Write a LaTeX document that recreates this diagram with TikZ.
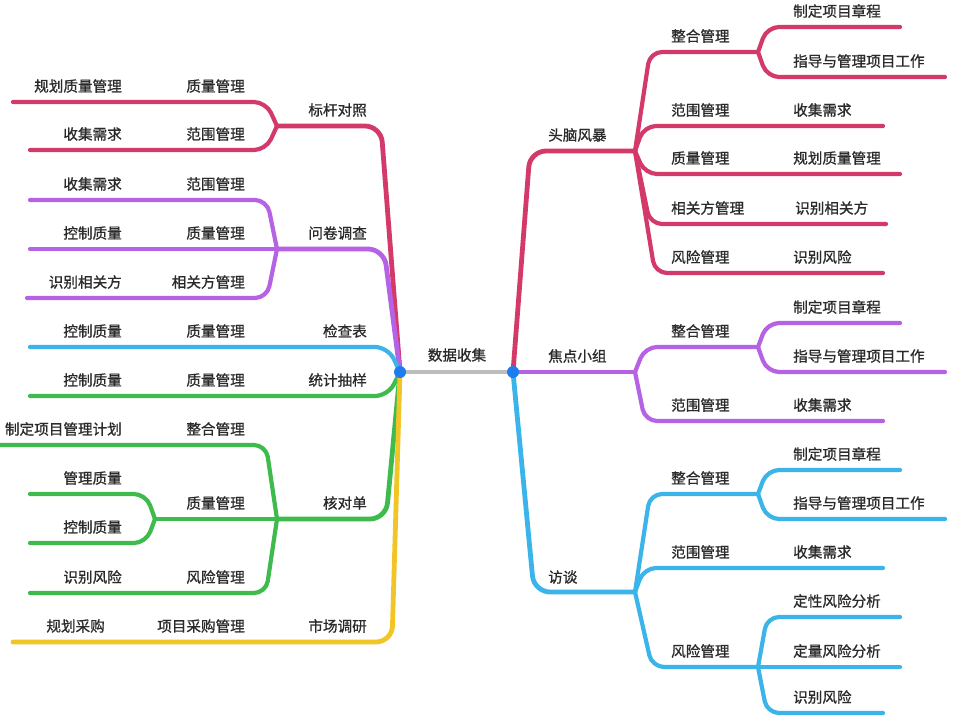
\documentclass[tikz,border=0pt]{standalone}
\usepackage{fontspec}
\setmainfont{Noto Sans CJK SC}[FakeBold=0.9]
\definecolor{cR}{HTML}{D33A6A}
\definecolor{cP}{HTML}{B662E4}
\definecolor{cB}{HTML}{3BB4EA}
\definecolor{cG}{HTML}{3FBA4D}
\definecolor{cY}{HTML}{F1C526}
\definecolor{cGray}{HTML}{BDBDBD}
\definecolor{cDot}{HTML}{1F7BF0}
\definecolor{txt}{HTML}{2A2A2A}
\begin{document}
\begin{tikzpicture}[x=1pt,y=-1pt,
  lbl/.style={font=\fontsize{14.6}{16}\selectfont, text=txt, inner sep=0pt},
  le/.style={lbl,anchor=east},
  ri/.style={lbl,anchor=west},
  br/.style={line width=4.2pt, line cap=round, line join=round, rounded corners=12pt},
  mainbr/.style={line width=4.8pt, rounded corners=16pt},
  dot/.style={circle, fill=cDot, minimum size=12pt, inner sep=0pt}]
\fill[white] (0,0) rectangle (964,715);
\useasboundingbox (0,0) rectangle (964,715);
% ---------- coordinates ----------
\coordinate (L) at (400,372);
\coordinate (R) at (513,372);
% left
\coordinate (bA) at (277,126);
\coordinate (eA1) at (13,102);
\coordinate (eA2) at (30,150);
\coordinate (bB) at (277,249);
\coordinate (eB1) at (30,200);
\coordinate (eB2) at (30,249);
\coordinate (eB3) at (27,298);
\coordinate (eC) at (30,347);
\coordinate (eD) at (30,396);
\coordinate (bE) at (277,519);
\coordinate (eE1) at (-4,445);
\coordinate (bE2) at (155,519);
\coordinate (eE21) at (30,494);
\coordinate (eE22) at (30,543);
\coordinate (eE3) at (30,593);
\coordinate (eF) at (13,642);
% right
\coordinate (bG) at (635,151);
\coordinate (bG1) at (758,52);
\coordinate (eG11) at (900,27);
\coordinate (eG12) at (945,77);
\coordinate (eG2) at (883,126);
\coordinate (eG3) at (900,174);
\coordinate (eG4) at (886,224);
\coordinate (eG5) at (883,273);
\coordinate (bH) at (635,372);
\coordinate (bH1) at (758,347);
\coordinate (eH11) at (900,323);
\coordinate (eH12) at (945,372);
\coordinate (eH2) at (883,421);
\coordinate (bI) at (635,592);
\coordinate (bI1) at (758,494);
\coordinate (eI11) at (900,470);
\coordinate (eI12) at (945,519);
\coordinate (eI2) at (883,568);
\coordinate (bI3) at (758,667);
\coordinate (eI31) at (900,617);
\coordinate (eI32) at (900,667);
\coordinate (eI33) at (883,713);
% ---------- left branches ----------
\draw[br,cR] (bA) -- (266,102) -- (eA1);
\draw[br,cR] (bA) -- (266,150) -- (eA2);
\draw[br,cR,mainbr] (L) -- (381,126) -- (bA);
\draw[br,cP] (bB) -- (267,200) -- (eB1);
\draw[br,cP] (bB) -- (eB2);
\draw[br,cP] (bB) -- (267,298) -- (eB3);
\draw[br,cP,mainbr] (L) -- (384,249) -- (bB);
\draw[br,cB,rounded corners=13pt] (L) -- (388,347) -- (eC);
\draw[br,cG,rounded corners=13pt] (L) -- (388,396) -- (eD);
\draw[br,cG] (bE) -- (266,445) -- (eE1);
\draw[br,cG] (bE2) -- (146,494) -- (eE21);
\draw[br,cG] (bE2) -- (146,543) -- (eE22);
\draw[br,cG] (bE) -- (bE2);
\draw[br,cG] (bE) -- (266,593) -- (eE3);
\draw[br,cG,mainbr] (L) -- (386,519) -- (bE);
\draw[br,cY,mainbr] (L) -- (392,642) -- (eF);
% ---------- right branches ----------
\draw[br,cR] (bG1) -- (767,27) -- (eG11);
\draw[br,cR] (bG1) -- (767,77) -- (eG12);
\draw[br,cR] (bG) -- (650,52) -- (bG1);
\draw[br,cR] (bG) -- (644,126) -- (eG2);
\draw[br,cR] (bG) -- (645,174) -- (eG3);
\draw[br,cR] (bG) -- (650,224) -- (eG4);
\draw[br,cR] (bG) -- (655,273) -- (eG5);
\draw[br,cR,mainbr] (R) -- (530,151) -- (bG);
\draw[br,cP] (bH1) -- (767,323) -- (eH11);
\draw[br,cP] (bH1) -- (767,372) -- (eH12);
\draw[br,cP] (bH) -- (645,347) -- (bH1);
\draw[br,cP] (bH) -- (645,421) -- (eH2);
\draw[br,cP,line width=4.8pt] (R) -- (bH);
\draw[br,cB] (bI1) -- (767,470) -- (eI11);
\draw[br,cB] (bI1) -- (767,519) -- (eI12);
\draw[br,cB] (bI) -- (650,494) -- (bI1);
\draw[br,cB] (bI) -- (644,568) -- (eI2);
\draw[br,cB] (bI3) -- (767,617) -- (eI31);
\draw[br,cB] (bI3) -- (eI32);
\draw[br,cB] (bI3) -- (767,713) -- (eI33);
\draw[br,cB] (bI) -- (652,667) -- (bI3);
\draw[br,cB,mainbr] (R) -- (534,592) -- (bI);
% ---------- center ----------
\draw[cGray,line width=4.5pt] (L) -- (R);
\node[dot] (dL) at (L) {};
\node[dot] (dR) at (R) {};
\node[lbl] (root) at (457,355) {数据收集};
% ---------- left labels ----------
\node[le] (t1) at (367,110) {标杆对照};
\node[le] (t11) at (245,86) {质量管理};
\node[le] (t111) at (122,86) {规划质量管理};
\node[le] (t12) at (245,134) {范围管理};
\node[le] (t121) at (122,134) {收集需求};
\node[le] (t2) at (367,233) {问卷调查};
\node[le] (t21) at (245,184) {范围管理};
\node[le] (t211) at (122,184) {收集需求};
\node[le] (t22) at (245,233) {质量管理};
\node[le] (t221) at (122,233) {控制质量};
\node[le] (t23) at (245,282) {相关方管理};
\node[le] (t231) at (122,282) {识别相关方};
\node[le] (t3) at (367,331) {检查表};
\node[le] (t31) at (245,331) {质量管理};
\node[le] (t311) at (122,331) {控制质量};
\node[le] (t4) at (367,380) {统计抽样};
\node[le] (t41) at (245,380) {质量管理};
\node[le] (t411) at (122,380) {控制质量};
\node[le] (t5) at (367,503) {核对单};
\node[le] (t51) at (245,429) {整合管理};
\node[le] (t511) at (122,429) {制定项目管理计划};
\node[le] (t52) at (245,503) {质量管理};
\node[le] (t521) at (122,478) {管理质量};
\node[le] (t522) at (122,527) {控制质量};
\node[le] (t53) at (245,577) {风险管理};
\node[le] (t531) at (122,577) {识别风险};
\node[le] (t6) at (367,626) {市场调研};
\node[le] (t61) at (245,626) {项目采购管理};
\node[le] (t611) at (105,626) {规划采购};
% ---------- right labels ----------
\node[ri] (r1) at (548,135) {头脑风暴};
\node[ri] (r11) at (671,36) {整合管理};
\node[ri] (r111) at (793,11) {制定项目章程};
\node[ri] (r112) at (793,61) {指导与管理项目工作};
\node[ri] (r12) at (671,110) {范围管理};
\node[ri] (r121) at (793,110) {收集需求};
\node[ri] (r13) at (671,158) {质量管理};
\node[ri] (r131) at (793,158) {规划质量管理};
\node[ri] (r14) at (671,208) {相关方管理};
\node[ri] (r141) at (795,208) {识别相关方};
\node[ri] (r15) at (671,257) {风险管理};
\node[ri] (r151) at (793,257) {识别风险};
\node[ri] (r2) at (548,356) {焦点小组};
\node[ri] (r21) at (671,331) {整合管理};
\node[ri] (r211) at (793,307) {制定项目章程};
\node[ri] (r212) at (793,356) {指导与管理项目工作};
\node[ri] (r22) at (671,405) {范围管理};
\node[ri] (r221) at (793,405) {收集需求};
\node[ri] (r3) at (548,577) {访谈};
\node[ri] (r31) at (671,478) {整合管理};
\node[ri] (r311) at (793,454) {制定项目章程};
\node[ri] (r312) at (793,503) {指导与管理项目工作};
\node[ri] (r32) at (671,552) {范围管理};
\node[ri] (r321) at (793,552) {收集需求};
\node[ri] (r33) at (671,651) {风险管理};
\node[ri] (r331) at (793,601) {定性风险分析};
\node[ri] (r332) at (793,651) {定量风险分析};
\node[ri] (r333) at (793,697) {识别风险};
\end{tikzpicture}
\end{document}
